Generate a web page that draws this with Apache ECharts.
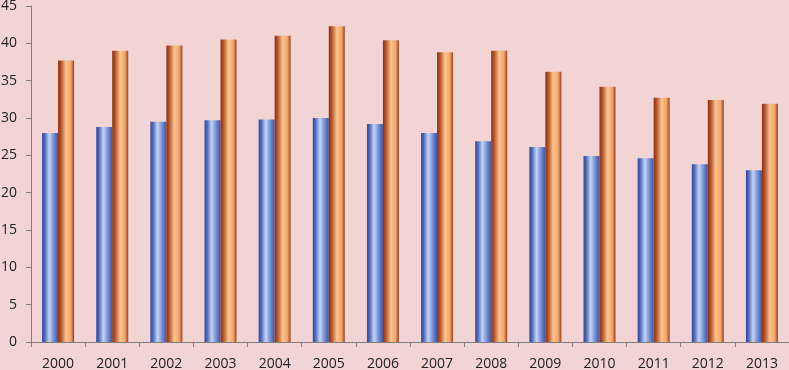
<!DOCTYPE html>
<html><head><meta charset="utf-8">
<script src="https://cdn.jsdelivr.net/npm/echarts@6/dist/echarts.min.js"></script>
<style>html,body{margin:0;padding:0;background:#f2d4d5;}#c{width:789px;height:370px;}</style>
</head><body><div id="c"></div>
<script>
var categories = ['2000','2001','2002','2003','2004','2005','2006','2007','2008','2009','2010','2011','2012','2013'];
var seriesBlue = [28.0,28.8,29.5,29.7,29.8,30.0,29.2,28.0,26.9,26.1,24.9,24.6,23.8,23.0];
var seriesOrange = [37.7,39.0,39.7,40.5,41.0,42.3,40.4,38.8,39.0,36.2,34.2,32.7,32.4,31.9];
var yTicks = [0,5,10,15,20,25,30,35,40,45];

var blueGrad = new echarts.graphic.LinearGradient(0,0,1,0,[
  {offset:0,color:'#34499a'},{offset:0.15,color:'#4a64b4'},{offset:0.45,color:'#c4d4f6'},
  {offset:0.75,color:'#6f8bd0'},{offset:1,color:'#3d55a6'}]);
var orangeGrad = new echarts.graphic.LinearGradient(0,0,1,0,[
  {offset:0,color:'#8a2e14'},{offset:0.2,color:'#b9592e'},{offset:0.5,color:'#fcc48e'},
  {offset:0.8,color:'#f0a56c'},{offset:1,color:'#9c3f1c'}]);

var chart = echarts.init(document.getElementById('c'));
chart.setOption({
  backgroundColor:'#f2d4d5',
  animation:false,
  grid:{left:31,right:0,top:6,bottom:28,containLabel:false,outerBoundsMode:'none'},
  xAxis:{type:'category',data:categories,
    axisLine:{lineStyle:{color:'#7f7f7f',width:1}},
    axisTick:{show:true,length:5,lineStyle:{color:'#7f7f7f'}},
    axisLabel:{color:'#222',fontSize:14,fontFamily:'Open Sans',margin:15}},
  yAxis:{type:'value',min:0,max:45,interval:5,
    splitLine:{show:false},
    axisLine:{show:true,lineStyle:{color:'#7f7f7f',width:1}},
    axisTick:{show:true,length:5,lineStyle:{color:'#7f7f7f'}},
    axisLabel:{color:'#222',fontSize:14,fontFamily:'Open Sans',margin:14,
      formatter:function(v){return yTicks.indexOf(v)>=0?String(v):'';}}},
  series:[
    {type:'bar',data:seriesBlue,barWidth:16,barGap:'0%',
      itemStyle:{color:blueGrad,borderWidth:0}},
    {type:'bar',data:seriesOrange,barWidth:16,barGap:'0%',
      itemStyle:{color:orangeGrad,borderWidth:0}}
  ]
});
</script></body></html>
